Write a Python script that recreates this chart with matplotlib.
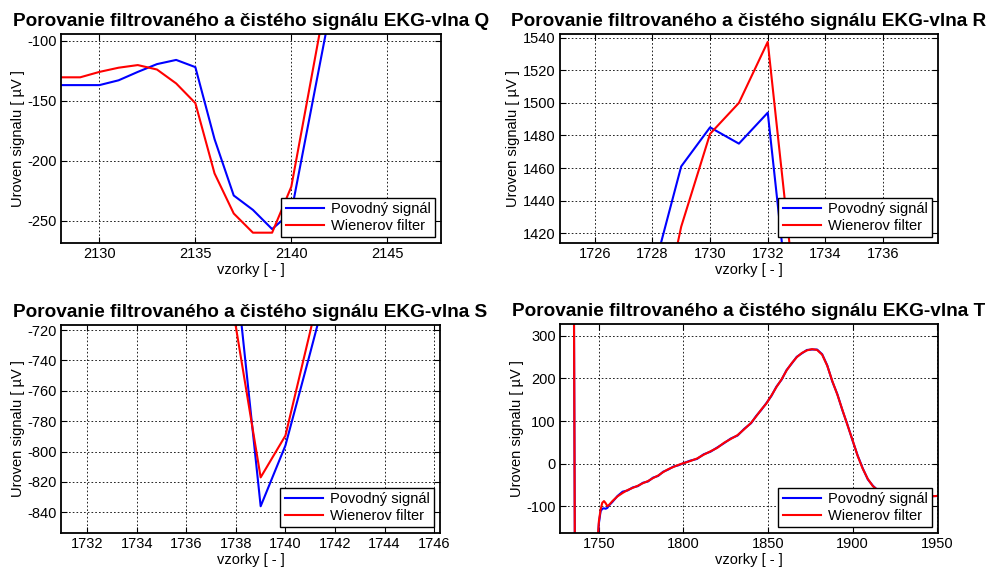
import matplotlib
matplotlib.use("Agg")
import matplotlib.pyplot as plt
import numpy as np

plt.rcParams['font.family'] = ['Liberation Sans', 'DejaVu Sans']
plt.rcParams['axes.unicode_minus'] = False

# ---- data: Q wave region ----
q_x = [2128, 2129, 2130, 2131, 2132, 2133, 2134, 2135, 2136, 2137, 2138, 2139, 2140, 2141, 2142]
q_blue = [-137, -137, -137, -133, -126, -119.5, -116, -122, -182, -229, -241, -257, -243, -160, -77]
q_red = [-130.5, -130.5, -126, -122.5, -120.3, -124, -135.6, -152, -210.6, -244, -260, -260, -221.7, -135, -48]

# ---- data: QRS complex (R, S waves) ----
qrs_x = [1727, 1728, 1729, 1730, 1731, 1732, 1733, 1734, 1735, 1736, 1737, 1738, 1739,
         1740, 1741, 1742, 1743, 1744, 1745, 1746, 1747, 1748, 1749]
qrs_blue = [1150, 1394, 1461, 1485, 1475, 1494, 1331, 1000, 620, -420, -560, -681, -836,
            -796, -735, -673, -610, -545, -480, -410, -340, -270, -200]
qrs_red = [1100, 1341, 1424, 1481, 1500, 1537.5, 1373, 1050, 650, -450, -620, -718, -817,
           -789.5, -721, -652, -590, -525, -455, -385, -315, -250, -195]

# ---- data: T wave ----
t_x = [1750, 1751, 1752, 1753, 1754, 1755, 1756, 1758, 1761, 1764, 1767, 1770, 1773, 1776,
       1779, 1782, 1785, 1788, 1791, 1794, 1797, 1800, 1804, 1808, 1812, 1816, 1820, 1824,
       1828, 1832, 1836, 1840, 1843, 1846, 1849, 1852, 1855, 1858, 1861, 1864, 1867, 1870,
       1873, 1876, 1879, 1882, 1885, 1888, 1891, 1894, 1897, 1900, 1903, 1906, 1909, 1912,
       1915, 1920, 1925, 1930, 1935, 1940, 1945, 1950]
t_red = [-135, -108, -92, -88, -93, -100, -97, -88, -77, -69, -62, -57, -52, -46,
         -41, -34, -28, -20, -13, -8, -3, 1, 6, 12, 21, 29, 37, 49,
         58, 67, 81, 96, 111, 127, 141, 160, 180, 198, 219, 236, 250, 260,
         266, 269, 267, 256, 230, 194, 162, 126, 90, 55, 18, -12, -36, -53,
         -63, -70, -74, -76, -77, -77, -77, -76]
t_blue = [-140, -112, -106, -105, -106, -104, -98, -90, -76, -66, -63, -56, -53, -45,
          -42, -33, -29, -19, -14, -7, -4, 1, 7, 11, 22, 28, 38, 48,
          59, 66, 82, 95, 112, 126, 142, 159, 181, 197, 220, 235, 251, 259,
          267, 268, 268, 257, 231, 193, 163, 125, 91, 54, 19, -11, -37, -52,
          -63, -70, -74, -76, -77, -77, -77, -76]

title_base = "Porovanie filtrovaného a čistého signálu EKG-vlna "
legend_labels = ["Povodný signál", "Wienerov filter"]

ecg_x = qrs_x + t_x
ecg_blue = qrs_blue + t_blue
ecg_red = qrs_red + t_red

fig = plt.figure(figsize=(9.93, 5.70), dpi=100)

W, H = 993.0, 570.0
def ax_at(l, t, r, b):
    return fig.add_axes([l / W, 1 - b / H, (r - l) / W, (b - t) / H])

panels = [
    dict(box=(61, 34, 441, 243), x=q_x, b=q_blue, r=q_red, wave="Q",
         xlim=(2128, 2147.8), ylim=(-268.6, -94.4),
         xt=[2130, 2135, 2140, 2145], yt=[-250, -200, -150, -100]),
    dict(box=(560, 34, 938, 243), x=ecg_x, b=ecg_blue, r=ecg_red, wave="R",
         xlim=(1724.8, 1737.9), ylim=(1414, 1542.3),
         xt=list(range(1726, 1737, 2)), yt=list(range(1420, 1541, 20))),
    dict(box=(61, 325, 440, 533), x=ecg_x, b=ecg_blue, r=ecg_red, wave="S",
         xlim=(1730.94, 1746.24), ylim=(-853.6, -716.7),
         xt=list(range(1732, 1747, 2)), yt=list(range(-840, -719, 20))),
    dict(box=(560, 324, 938, 533), x=ecg_x, b=ecg_blue, r=ecg_red, wave="T",
         xlim=(1727, 1950.5), ylim=(-163, 328),
         xt=[1750, 1800, 1850, 1900, 1950], yt=[-100, 0, 100, 200, 300]),
]

for p in panels:
    ax = ax_at(*p["box"])
    ax.plot(p["x"], p["b"], color=(0, 0, 1), lw=1.5, label=legend_labels[0])
    ax.plot(p["x"], p["r"], color=(1, 0, 0), lw=1.5, label=legend_labels[1])
    ax.set_xlim(*p["xlim"])
    ax.set_ylim(*p["ylim"])
    ax.set_xticks(p["xt"])
    ax.set_yticks(p["yt"])
    ax.grid(True, linestyle=(0, (2, 2.5)), color='black', lw=0.6)
    ax.tick_params(direction='in', top=True, right=True, length=4, width=0.8,
                   labelsize=10.5, pad=3, colors='black')
    for s in ax.spines.values():
        s.set_linewidth(1.3)
    ax.set_title(title_base + p["wave"], fontsize=13.7, fontweight='bold', pad=6)
    ax.set_xlabel("vzorky [ - ]", fontsize=10.5, labelpad=1)
    ax.set_ylabel("Uroven signalu [ µV ]", fontsize=10.5, labelpad=2)
    leg = ax.legend(loc='lower right', fontsize=10.5, fancybox=False, framealpha=1,
                    edgecolor='black', handlelength=2.6, borderpad=0.3,
                    labelspacing=0.2, borderaxespad=0.4, handletextpad=0.5)
    leg.get_frame().set_linewidth(1.0)

fig.savefig("out.png", dpi=100)
